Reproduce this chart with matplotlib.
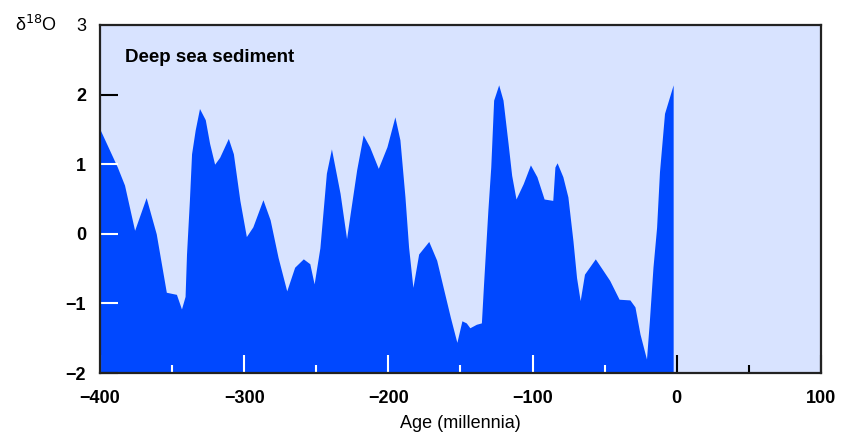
import matplotlib
matplotlib.use('Agg')
from matplotlib import pyplot as plt

# age in millennia (negative = before present) and delta 18O values
age = [-400, -388, -383, -376, -368, -361, -354, -347, -343.5, -341, -340, -338, -336.5, -334,
       -331, -327, -324, -320.5, -317, -311, -307.5, -303, -298.5, -294, -287, -282, -276.5,
       -270.5, -265, -259, -254.5, -251.5, -247.5, -243, -239.5, -233.5, -229, -226.5, -222,
       -217.5, -213, -207, -201, -195.5, -192, -188.5, -186, -183, -179, -172, -166.5, -162,
       -157, -152.5, -149, -146, -143.5, -139, -135.5, -134, -131, -129, -127, -123.5, -120.5,
       -117, -114.5, -111.5, -106.5, -101.5, -97, -92, -86, -84.5, -83, -79, -75.5, -72, -69.5,
       -67, -64, -56.5, -51, -46.5, -40, -32.5, -29, -25.5, -21, -19, -16.5, -14, -12, -8.5, -2.5]
d18o = [1.5, 0.96, 0.70, 0.05, 0.52, 0.0, -0.84, -0.87, -1.08, -0.9, -0.29, 0.48, 1.15, 1.49,
        1.80, 1.64, 1.30, 1.0, 1.10, 1.37, 1.15, 0.48, -0.04, 0.10, 0.49, 0.20, -0.34,
        -0.82, -0.48, -0.36, -0.43, -0.72, -0.20, 0.87, 1.22, 0.58, -0.07, 0.29, 0.92,
        1.42, 1.25, 0.94, 1.25, 1.68, 1.35, 0.53, -0.19, -0.77, -0.29, -0.11, -0.38, -0.77,
        -1.2, -1.56, -1.25, -1.28, -1.35, -1.30, -1.28, -0.72, 0.34, 0.96, 1.92, 2.14, 1.92,
        1.30, 0.84, 0.50, 0.72, 0.99, 0.82, 0.50, 0.48, 0.96, 1.02, 0.82, 0.53, -0.10, -0.63,
        -0.96, -0.58, -0.36, -0.53, -0.67, -0.94, -0.95, -1.05, -1.44, -1.80, -1.25, -0.48,
        0.09, 0.89, 1.73, 2.14]

xticks = [-400, -300, -200, -100, 0, 100]
xminor = [-350, -250, -150, -50, 50]
yticks = [-2, -1, 0, 1, 2, 3]

bg = '#d8e3ff'
blue = '#0048ff'
font = 'Liberation Sans'

fig = plt.figure(figsize=(8.46, 4.44), dpi=100)
ax = fig.add_axes([0.1182, 0.1599, 0.8522, 0.7838])
ax.set_facecolor(bg)
ax.fill_between(age, d18o, -2, color=blue, lw=0, zorder=1)
ax.set_xlim(-400, 100)
ax.set_ylim(-2, 3)

for s in ax.spines.values():
    s.set_linewidth(1.6)
    s.set_color('#222222')

ax.set_xticks(xticks)
ax.set_xticks(xminor, minor=True)
ax.set_yticks(yticks)
ax.set_xticklabels([str(t).replace('-', '\u2212') for t in xticks],
                   fontfamily=font, fontweight='bold', fontsize=13)
ax.set_yticklabels([str(t).replace('-', '\u2212') for t in yticks],
                   fontfamily=font, fontweight='bold', fontsize=13)
ax.get_yticklabels()[-1].set_fontweight('normal')
ax.tick_params(axis='both', which='major', direction='in', length=13, width=1.5, pad=10)
ax.tick_params(axis='x', which='major', pad=12)
ax.tick_params(axis='x', which='minor', direction='in', length=6, width=1.5)

# ticks over the filled area are white, others black
def paint(tick, c):
    tick.tick1line.set_markeredgecolor(c)
    tick.tick1line.set_color(c)

for t, v in zip(ax.yaxis.get_major_ticks(), yticks):
    paint(t, 'white' if v in (-1, 0, 1) else 'black')
    if v == 3:
        t.tick1line.set_visible(False)
for t, v in zip(ax.xaxis.get_major_ticks(), xticks):
    paint(t, 'white' if v < 0 else 'black')
for t, v in zip(ax.xaxis.get_minor_ticks(), xminor):
    paint(t, 'white' if v < 0 else 'black')

ax.text(-382.7, 2.54, 'Deep sea sediment', fontfamily=font, fontweight='bold',
        fontsize=13.5, va='center', ha='left')
ax.set_xlabel('Age (millennia)', fontfamily=font, fontsize=13, labelpad=6)
fig.text(0.018, 0.944, '\u03b4$^{18}$O', fontfamily=font, fontsize=13, va='center', ha='left')

fig.savefig('out.png', dpi=100)
